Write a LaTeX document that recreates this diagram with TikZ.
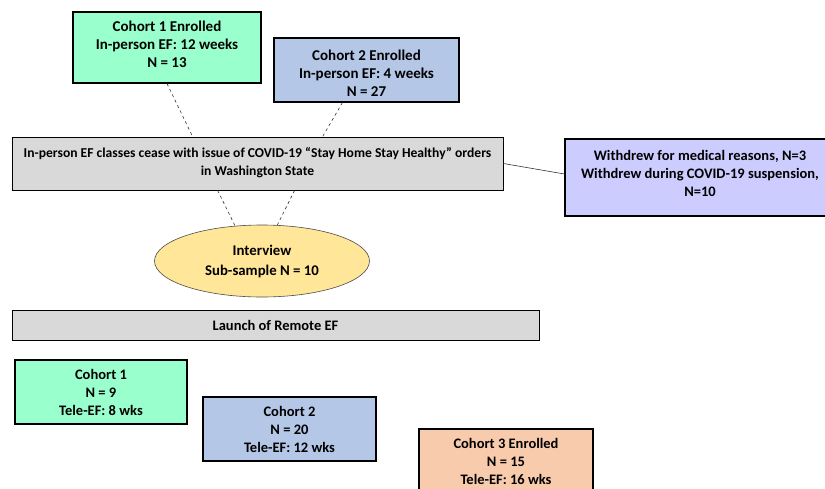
\documentclass[tikz,border=0pt]{standalone}
\usepackage{fontspec}
\setmainfont{Carlito}
\usepackage{tikz}
\definecolor{mint}{HTML}{99FFCC}
\definecolor{steel}{HTML}{B4C7E7}
\definecolor{peach}{HTML}{F8CBAD}
\definecolor{lgray}{HTML}{D9D9D9}
\definecolor{lilac}{HTML}{CCCCFF}
\definecolor{sand}{HTML}{FFE699}
\usetikzlibrary{shapes.geometric}

\begin{document}
\begin{tikzpicture}[x=1pt,y=-1pt,
		box/.style={draw=black,line width=1.1pt,align=center,inner sep=0pt,
			font=\fontsize{14.5}{18}\selectfont\bfseries},
		link/.style={draw=black!80,line width=0.6pt}]
		\clip (0,0) rectangle (825,488);
		\node[box,fill=mint,minimum width=188,minimum height=71,font=\fontsize{15}{18}\selectfont\bfseries] (c1in) at (167,47.5)
			{Cohort 1 Enrolled\\In-person EF: 12 weeks\\N = 13\\[-11pt]};
		\node[box,fill=steel,minimum width=185,minimum height=64,font=\fontsize{15}{18}\selectfont\bfseries] (c2in) at (366.5,70)
			{\mbox{}\\[-2pt]Cohort 2 Enrolled\\In-person EF: 4 weeks\\N = 27};
		\node[box,fill=lgray,line width=0.8pt,minimum width=491,minimum height=53,font=\fontsize{13.6}{18}\selectfont\bfseries] (cease) at (257.5,163.5)
			{In-person EF classes cease with issue of COVID-19 ``Stay Home Stay Healthy'' orders\\in Washington State\\[-14pt]};
		\node[box,fill=lilac,minimum width=270,minimum height=77] (withdrew) at (700,177.5)
			{Withdrew for medical reasons, N=3\\Withdrew during COVID-19 suspension,\\N=10\\[-9pt]};
		\node[box,ellipse,fill=sand,draw=black!70,line width=0.6pt,minimum width=215,minimum height=72,font=\fontsize{14.8}{20}\selectfont\bfseries] (interview) at (262,261)
			{Interview\\Sub-sample N = 10};
		\node[box,fill=lgray,line width=0.8pt,minimum width=527,minimum height=30] (launch) at (275.5,325)
			{Launch of Remote EF};
		\node[box,fill=mint,minimum width=172,minimum height=64] (c1tele) at (101,392)
			{Cohort 1\\N = 9\\Tele-EF: 8 wks};
		\node[box,fill=steel,minimum width=173,minimum height=64] (c2tele) at (289.5,429)
			{Cohort 2\\N = 20\\Tele-EF: 12 wks};
		\node[box,fill=peach,minimum width=174,minimum height=64] (c3tele) at (506,461)
			{Cohort 3 Enrolled\\N = 15\\Tele-EF: 16 wks};
		% dashed links
		\draw[link,dashed] (c1in.south) -- ([xshift=181pt]cease.north west);
		\draw[link,dashed] ([xshift=69pt]c2in.south west) -- ([xshift=311pt]cease.north west);
		\draw[link,dashed] ([xshift=206pt]cease.south west) -- ([xshift=-27pt,yshift=-1pt]interview.north);
		\draw[link,dashed] ([xshift=283pt]cease.south west) -- ([xshift=15pt,yshift=-1pt]interview.north);
		\draw[link] (cease.east) -- ([yshift=3.5pt]withdrew.west);
\end{tikzpicture}
\end{document}
